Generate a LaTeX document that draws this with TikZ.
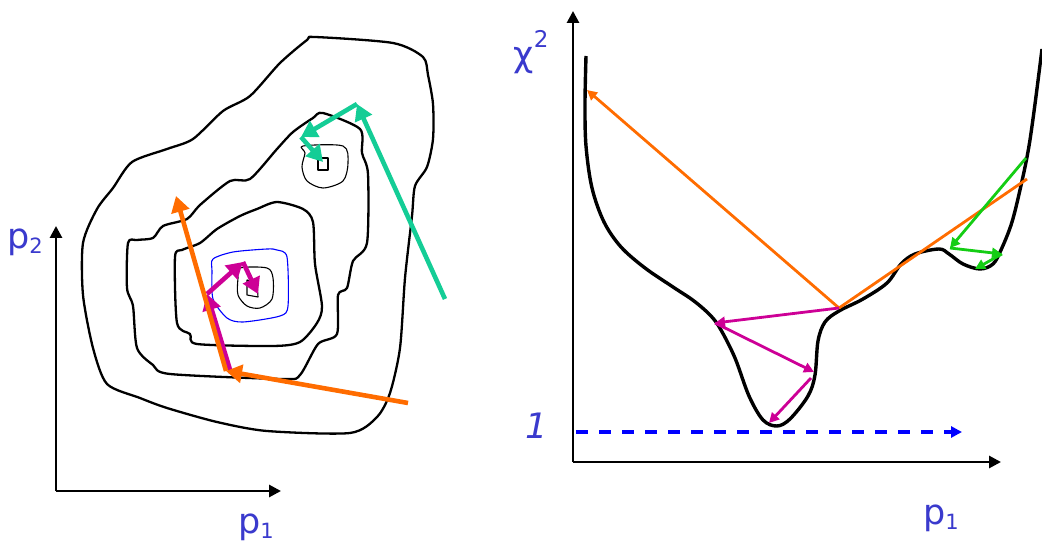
\documentclass[tikz,border=0pt]{standalone}
\usepackage{fontspec}
\setmainfont{DejaVu Sans}
\usetikzlibrary{arrows.meta}
\definecolor{lblue}{RGB}{58,58,205}
\definecolor{sorange}{RGB}{255,108,0}
\definecolor{smagenta}{RGB}{205,0,150}
\definecolor{steal}{RGB}{20,205,150}
\definecolor{sgreen}{RGB}{20,205,20}
\newcommand{\lowidx}[1]{\raisebox{-0.28ex}{\fontsize{21}{21}\selectfont #1}}
\newcommand{\bigstep}[3]{\draw[#1,line width=4.6pt,-{Triangle[length=16pt,width=18pt]}] (#2)--(#3);}
\newcommand{\smallstep}[3]{\draw[#1,line width=2.8pt,-{Triangle[length=10pt,width=10pt]}] (#2)--(#3);}

\begin{document}
\begin{tikzpicture}[x=1pt,y=-1pt,
  lbl/.style={text=lblue,inner sep=0pt,font=\fontsize{35}{35}\selectfont},
  axis/.style={line width=2.8pt,-{Triangle[length=12pt,width=12pt]}},
  contour/.style={line width=2.3pt,line join=round},
  thincontour/.style={line width=1.1pt,line join=round}]
  \useasboundingbox (0,0) rectangle (1042,545);

  % left panel: axes
  \coordinate (o1) at (56,491);
  \coordinate (x1) at (281,491);
  \coordinate (y1) at (56,226);
  \draw[axis] (o1)--(x1);
  \draw[axis] (o1)--(y1);
  \node[lbl] (p2) at (25,242) {p\lowidx{2}};
  \node[lbl] (p1l) at (256,527) {p\lowidx{1}};

  % contours of chi^2
  \draw[contour] plot[smooth cycle,tension=0.45] coordinates {
    (315,37) (393,43) (423,57) (428,75) (433,104) (433,139) (427,167)
    (415,186) (412,216) (405,278) (400,348) (390,393) (377,417) (350,433)
    (267,431) (217,422) (167,408) (140,398) (107,384) (93,348) (83,295)
    (83,243) (97,209) (113,188) (132,162) (167,149) (193,139) (223,111)
    (250,96) (280,63) (307,40)};
  \draw[contour] plot[smooth cycle,tension=0.45] coordinates {
    (323,113) (360,129) (362,153) (368,174) (367,243) (353,261) (347,288)
    (338,295) (337,334) (318,344) (300,375) (283,379) (170,374) (153,365)
    (137,348) (133,306) (127,288) (128,243) (137,240) (153,238) (163,226)
    (187,219) (200,205) (230,181) (250,179) (277,149) (293,132) (313,118)};
  \draw[contour] plot[smooth cycle,tension=0.45] coordinates {
    (277,202) (303,209) (313,222) (315,264) (322,306) (317,323) (300,342)
    (273,346) (197,344) (190,334) (177,323) (175,257) (182,250) (200,243)
    (217,229) (240,216) (257,209)};
  \draw[thincontour,blue] plot[smooth cycle,tension=0.45] coordinates {
    (213,259) (233,252) (267,249) (277,250) (287,257) (288,306) (280,316)
    (243,322) (227,318) (213,299) (212,271)};
  \draw[thincontour] plot[smooth cycle,tension=0.5] coordinates {
    (240,268) (267,268) (273,278) (272,299) (260,308) (247,306) (238,295)
    (238,278)};
  \draw[thincontour] (247,280)--(257,283)--(258,297)--(247,295)--cycle;
  \draw[thincontour] plot[smooth cycle,tension=0.5] coordinates {
    (303,146) (343,146) (348,163) (343,181) (323,188) (307,181) (302,167)
    (305,153)};
  \draw[thincontour] (318,158)--(328,158)--(328,170)--(318,170)--cycle;

  % steps on the left
  \coordinate (t0) at (445,299);
  \coordinate (t1) at (357,104);
  \coordinate (t2) at (301,137);
  \coordinate (t3) at (323,162);
  \bigstep{steal}{t0}{t1}
  \bigstep{steal}{t1}{t2}
  \bigstep{steal}{t2}{t3}
  \coordinate (a0) at (408,403);
  \coordinate (a1) at (226,371);
  \coordinate (a2) at (176,196);
  \coordinate (m0) at (231,373);
  \coordinate (m1) at (207,294);
  \coordinate (m2) at (243,262);
  \coordinate (m3) at (258,294);
  \bigstep{smagenta}{m0}{m1}
  \bigstep{smagenta}{m1}{m2}
  \bigstep{smagenta}{m2}{m3}
  \bigstep{sorange}{a0}{a1}
  \bigstep{sorange}{a1}{a2}

  % right panel: axes
  \coordinate (o2) at (573,462);
  \coordinate (x2) at (1001,462);
  \coordinate (y2) at (573,11);
  \draw[axis] (o2)--(x2);
  \draw[axis] (o2)--(y2);
  \node[lbl] (chi) at (531,52) {χ\raisebox{0.55em}{\fontsize{23}{23}\selectfont 2}};
  \node[lbl] (one) at (537,426) {\itshape 1};
  \node[lbl] (p1r) at (941,518) {p\lowidx{1}};

  % level chi^2 = 1
  \coordinate (d0) at (576,432);
  \coordinate (d1) at (962,432);
  \draw[blue,line width=3.2pt,dash pattern=on 12pt off 11pt,
    -{Triangle[length=11pt,width=11pt]}] (d0)--(d1);

  % chi^2 along p1
  \draw[line width=3.4pt,line join=round] plot[smooth,tension=0.55] coordinates {
    (586,56) (585,104) (586,146) (592,188) (604,222) (621,247) (645,268)
    (673,287) (694,301) (711,316) (721,330) (735,358) (749,396) (763,420)
    (777,426) (790,419) (808,396) (815,375) (818,341) (825,322) (839,311)
    (863,299) (887,283) (901,264) (915,254) (939,249) (949,254) (963,264)
    (980,269) (993,264) (1001,250) (1012,222) (1022,181) (1029,146)
    (1035,104) (1042,49)};

  % steps on the right
  \coordinate (c0) at (839,308);
  \coordinate (c1) at (587,90);
  \coordinate (c2) at (1027,179);
  \smallstep{sorange}{c0}{c1}
  \draw[sorange,line width=2.8pt] (c0)--(c2);
  \coordinate (r1) at (715,323);
  \coordinate (r2) at (814,372);
  \coordinate (r3) at (811,378);
  \coordinate (r4) at (769,423);
  \smallstep{smagenta}{c0}{r1}
  \smallstep{smagenta}{r1}{r2}
  \smallstep{smagenta}{r3}{r4}
  \coordinate (g0) at (1026,158);
  \coordinate (g1) at (950,248);
  \coordinate (g2) at (1002,254);
  \coordinate (g3) at (975,269);
  \smallstep{sgreen}{g0}{g1}
  \smallstep{sgreen}{g1}{g2}
  \smallstep{sgreen}{g2}{g3}
\end{tikzpicture}
\end{document}
